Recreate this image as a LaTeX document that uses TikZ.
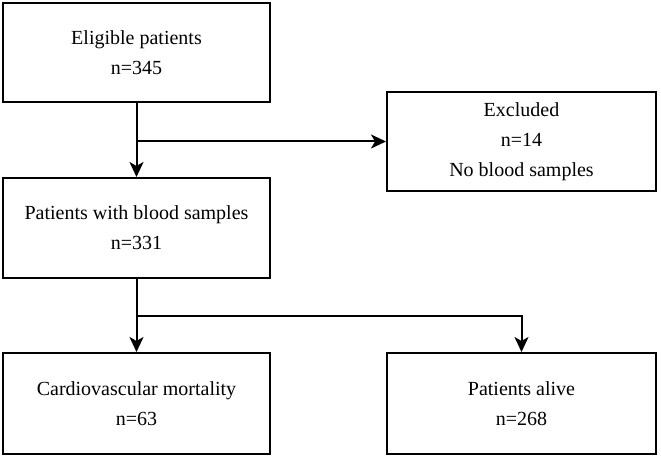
\documentclass[tikz,border=0pt]{standalone}
\usepackage{fontspec}
\setmainfont{Liberation Serif}
\usetikzlibrary{arrows.meta}

\tikzset{
  flowbox/.style={draw=black, line width=2pt, align=center, inner sep=0pt,
    font=\fontsize{20}{30}\selectfont},
  flowarrow/.style={black, line width=2pt, -{Stealth[length=15pt,width=14pt,inset=4pt]}},
  flowline/.style={black, line width=2pt}
}

\begin{document}
\begin{tikzpicture} [x=1pt, y=-1pt]
\useasboundingbox (0,0) rectangle (661,462);
\node[flowbox, minimum width=267pt, minimum height=99pt] (elig) at (136.5,52.5) {Eligible patients\\n=345};
\node[flowbox, minimum width=269pt, minimum height=99pt] (excl) at (521.5,141.5) {Excluded\\n=14\\No blood samples};
\node[flowbox, minimum width=267pt, minimum height=100pt] (blood) at (136.5,228) {Patients with blood samples\\n=331};
\node[flowbox, minimum width=267pt, minimum height=101pt] (cvm) at (136.5,403.5) {Cardiovascular mortality\\n=63};
\node[flowbox, minimum width=269pt, minimum height=101pt] (alive) at (521.5,403.5) {Patients alive\\n=268};
\coordinate (split1) at (elig.south |- excl.west);
\coordinate (split2) at (136.5,316);
\draw[flowarrow] (elig) -- (blood);
\draw[flowarrow] (split1) -- (excl);
\draw[flowline] (blood) -- (split2);
\draw[flowarrow] (split2) -- (cvm);
\draw[flowarrow] (split2) -| (alive);
\end{tikzpicture}
\end{document}
